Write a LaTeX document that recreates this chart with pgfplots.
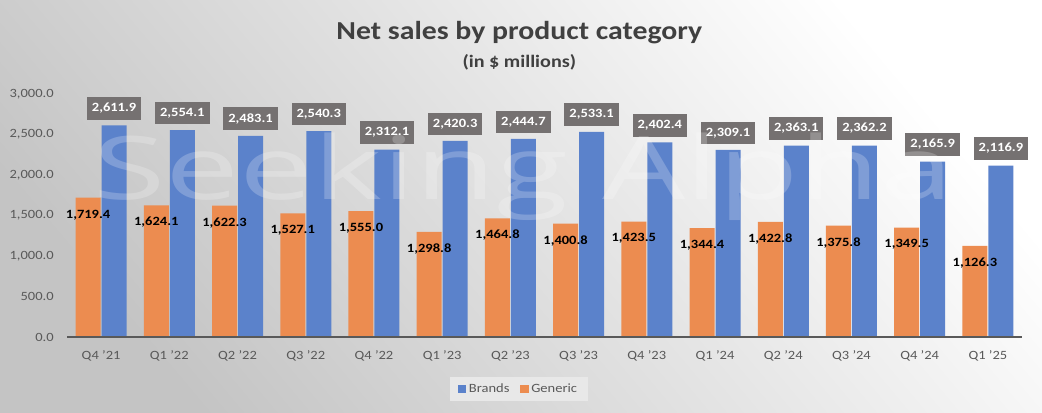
\documentclass[border=0pt]{standalone}
\usepackage{fontspec}
\setmainfont{Carlito}
\newfontfamily\wmfont{Open Sans}
\usepackage{graphicx}
\usepackage{pgfplots}
\pgfplotsset{compat=1.18}
\definecolor{brandblue}{HTML}{5B82CB}
\definecolor{genorange}{HTML}{EC8C50}
\definecolor{lblgray}{HTML}{757171}
\definecolor{txtgray}{HTML}{595959}
\definecolor{titlegray}{HTML}{404040}
\definecolor{bgDark}{HTML}{C4C4C4}
\definecolor{bgLight}{HTML}{FFFFFF}
\definecolor{legfill}{HTML}{E8E8E8}
\newcommand{\sx}[1]{\scalebox{1.15}[1]{#1}}
\newcommand{\q}{\char"0027\relax}
\begin{document}
\begin{tikzpicture}
\useasboundingbox (0,0) rectangle (781.5bp,309.75bp);
\shade[shading=axis, top color=bgLight, bottom color=bgDark, shading angle=-50] (0,0) rectangle (781.5bp,309.75bp);
\begin{axis}[
  at={(50.25bp,57bp)}, anchor=south west,
  scale only axis, width=716.25bp, height=182.25bp,
  xmin=-0.5, xmax=13.5, ymin=0, ymax=3000,
  clip=false,
  axis lines*=left,
  axis line style={draw=none},
  major tick length=0pt, xtick style={draw=none}, ytick style={draw=none},
  ytick={0,500,...,3000},
  xtick={0,...,13},
  xticklabels={\sx{Q4 \q21}, \sx{Q1 \q22}, \sx{Q2 \q22}, \sx{Q3 \q22}, \sx{Q4 \q22}, \sx{Q1 \q23}, \sx{Q2 \q23}, \sx{Q3 \q23}, \sx{Q4 \q23}, \sx{Q1 \q24}, \sx{Q2 \q24}, \sx{Q3 \q24}, \sx{Q4 \q24}, \sx{Q1 \q25}},
  scaled y ticks=false,
  yticklabel={\sx{\pgfmathprintnumber{\tick}}},
  /pgf/number format/.cd, fixed, fixed zerofill, precision=1, 1000 sep={,}, assume math mode=true,
  /pgfplots/.cd,
  ticklabel style={font=\fontsize{9.5}{11}\selectfont, text=txtgray},
  yticklabel style={xshift=-6.5bp},
  xticklabel style={yshift=-7bp},
  ybar, bar width=18.75bp,
  legend style={at={(0.473,-0.214)}, anchor=center, legend columns=-1, draw=none,
    fill=legfill, text=txtgray,
    font=\fontsize{9.5}{11}\selectfont, inner xsep=6bp, inner ysep=3bp,
    /tikz/every even column/.append style={column sep=6bp}},
  legend image code/.code={\fill[#1, draw=none] (0bp,-3.2bp) rectangle (6.4bp,3.2bp);},
]
\addplot[fill=brandblue, draw=none, bar shift=9.75bp,
  nodes near coords={\sx{\pgfmathprintnumber{\pgfplotspointmeta}}},
  every node near coord/.append style={font=\bfseries\fontsize{9.5}{11}\selectfont, text=white, fill=lblgray, inner xsep=3.75bp, inner ysep=0pt, minimum height=16.9bp, anchor=south, yshift=4.2bp}]
coordinates {(0,2611.9) (1,2554.1) (2,2483.1) (3,2540.3) (4,2312.1) (5,2420.3) (6,2444.7) (7,2533.1) (8,2402.4) (9,2309.1) (10,2363.1) (11,2362.2) (12,2165.9) (13,2116.9)};
\addlegendentry{\sx{Brands}}
\addplot[fill=genorange, draw=none, bar shift=-9.75bp,
  nodes near coords={\sx{\pgfmathprintnumber{\pgfplotspointmeta}}},
  every node near coord/.append style={font=\bfseries\fontsize{9.5}{11}\selectfont, text=black, inner sep=0pt, anchor=center, yshift=-12.75bp}]
coordinates {(0,1719.4) (1,1624.1) (2,1622.3) (3,1527.1) (4,1555.0) (5,1298.8) (6,1464.8) (7,1400.8) (8,1423.5) (9,1344.4) (10,1422.8) (11,1375.8) (12,1349.5) (13,1126.3)};
\addlegendentry{\sx{Generic}}
\draw[txtgray, line width=1.2bp] (axis cs:-0.5,0) -- (axis cs:13.5,0);
\end{axis}
\node[anchor=base, font=\bfseries\fontsize{19.5}{23}\selectfont, text=titlegray] at (389.5bp,279.75bp) {\sx{Net sales by product category}};
\node[anchor=base, font=\bfseries\fontsize{13.2}{15}\selectfont, text=titlegray] at (389.5bp,258.75bp) {\sx{(in \$ millions)}};
\node[anchor=base, white, opacity=0.22, font=\wmfont\fontsize{66}{70}\selectfont, xscale=1.5, transform shape] at (392.6bp,159.75bp) {Seeking Alpha};
\end{tikzpicture}
\end{document}
